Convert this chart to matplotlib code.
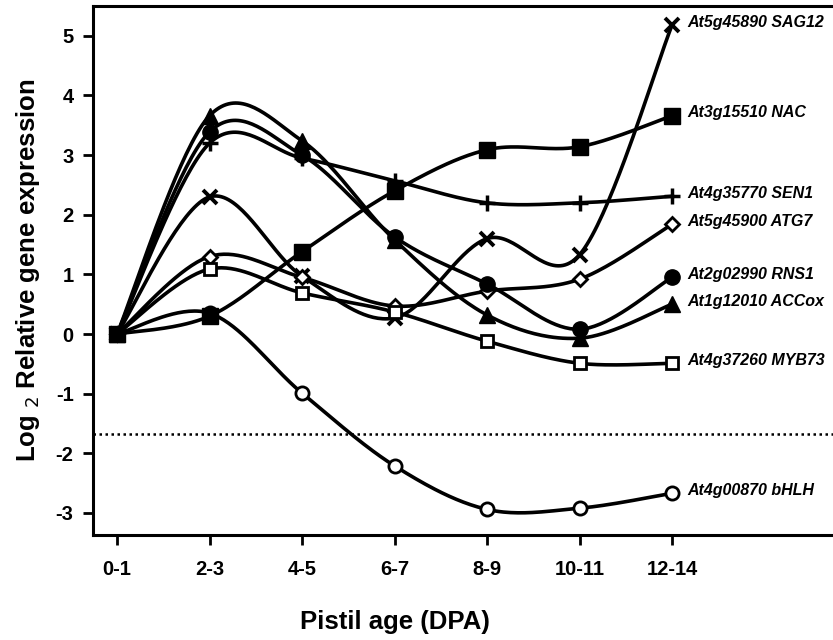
import matplotlib
matplotlib.use("Agg")
import matplotlib.pyplot as plt
import numpy as np

plt.rcParams['font.family'] = ['Liberation Sans', 'DejaVu Sans']
plt.rcParams['axes.unicode_minus'] = False

ages = ["0-1", "2-3", "4-5", "6-7", "8-9", "10-11", "12-14"]

sag12 = [0, 2.30, 0.97, 0.27, 1.60, 1.33, 5.18]
nac = [0, 0.30, 1.38, 2.40, 3.09, 3.14, 3.66]
sen1 = [0, 3.20, 2.95, 2.57, 2.20, 2.20, 2.31]
atg7 = [0, 1.30, 0.95, 0.47, 0.72, 0.92, 1.84]
rns1 = [0, 3.39, 3.00, 1.63, 0.84, 0.08, 0.95]
accox = [0, 3.66, 3.24, 1.58, 0.32, -0.07, 0.50]
myb73 = [0, 1.09, 0.69, 0.37, -0.12, -0.49, -0.49]
bhlh = [0, 0.35, -0.99, -2.21, -2.94, -2.92, -2.67]

threshold = -1.68

series = [
    ("At5g45890 SAG12", sag12, dict(marker='x', ms=10, mew=2.8, mfc='black')),
    ("At4g35770 SEN1", sen1, dict(marker='+', ms=12, mew=2.5, mfc='black')),
    ("At5g45900 ATG7", atg7, dict(marker='D', ms=7.5, mew=2, mfc='white')),
    ("At2g02990 RNS1", rns1, dict(marker='o', ms=11, mfc='black')),
    ("At1g12010 ACCox", accox, dict(marker='^', ms=12, mfc='black')),
    ("At4g37260 MYB73", myb73, dict(marker='s', ms=9, mew=2, mfc='white')),
    ("At4g00870 bHLH", bhlh, dict(marker='o', ms=9.5, mew=2, mfc='white')),
    ("At3g15510 NAC", nac, dict(marker='s', ms=11, mfc='black')),
]


def smooth(x, y, n=40):
    # Catmull-Rom style bezier through the points, like a spreadsheet "smoothed line"
    p = np.column_stack([x, y]).astype(float)
    out = []
    for i in range(len(p) - 1):
        p0 = p[i - 1] if i > 0 else p[i]
        p1, p2 = p[i], p[i + 1]
        p3 = p[i + 2] if i + 2 < len(p) else p[i + 1]
        c1 = p1 + (p2 - p0) / 6
        c2 = p2 - (p3 - p1) / 6
        t = np.linspace(0, 1, n)[:, None]
        seg = ((1 - t) ** 3) * p1 + 3 * ((1 - t) ** 2) * t * c1 + 3 * (1 - t) * t ** 2 * c2 + t ** 3 * p2
        out.append(seg if i == 0 else seg[1:])
    out = np.vstack(out)
    return out[:, 0], out[:, 1]


fig = plt.figure(figsize=(8.33, 6.4), dpi=100)
ax = fig.add_axes([0.1116, 0.164, 0.8884, 0.8266])

x = np.arange(len(ages))

for name, vals, style in series:
    sx, sy = smooth(x, vals)
    ax.plot(sx, sy, color='black', lw=2.6, zorder=2, solid_capstyle='round')

for i, (name, vals, style) in enumerate(series):
    ax.plot(x, vals, ls='none', mec='black', zorder=3 + i * 0.01, clip_on=False, **style)
    ax.annotate(name, (x[-1], vals[-1]), xytext=(11, 2), textcoords='offset points',
                va='center', ha='left', fontsize=11.5, fontweight='bold', style='italic')

ax.axhline(threshold, color='black', ls=(0, (1, 1.4)), lw=1.8, zorder=1)

ax.set_xlim(-0.26, 7.74)
ax.set_ylim(-3.37, 5.5)
ax.set_xticks(x)
ax.set_xticklabels(ages)
ax.set_yticks(range(-3, 6))

for lab in ax.get_xticklabels() + ax.get_yticklabels():
    lab.set_fontweight('bold')
    lab.set_fontsize(14.5)

ax.tick_params(axis='x', direction='out', length=7, width=2, pad=11)
ax.tick_params(axis='y', direction='out', length=7, width=2, pad=7)

ax.spines['right'].set_visible(False)
for s in ['left', 'top', 'bottom']:
    ax.spines[s].set_linewidth(2.2)

ax.set_ylabel("Log $_{2}$ Relative gene expression", fontsize=18.5, fontweight='bold', labelpad=10)
ax.text(3, -0.165, "Pistil age (DPA)", transform=ax.get_xaxis_transform(),
        ha='center', va='center', fontsize=18.5, fontweight='bold')

fig.savefig("out.png", dpi=100)
